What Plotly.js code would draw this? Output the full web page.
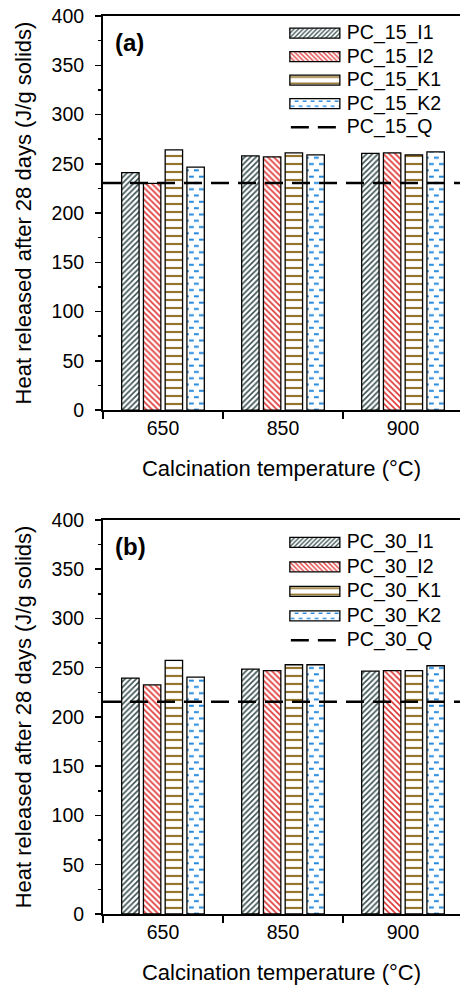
<!DOCTYPE html>
<html>
<head>
<meta charset="utf-8">
<script src="https://cdn.plot.ly/plotly-3.0.1.min.js"></script>
<style>html,body{margin:0;padding:0;background:#fff;overflow:hidden}#chart{width:460px;height:986px}</style>
</head>
<body>
<div id="chart"></div>
<script>
// ---- data ----
const categories = ['650', '850', '900'];
const seriesNames15 = ['PC_15_I1', 'PC_15_I2', 'PC_15_K1', 'PC_15_K2'];
const seriesNames30 = ['PC_30_I1', 'PC_30_I2', 'PC_30_K1', 'PC_30_K2'];
const pc15_I1 = [241, 258, 260.5];
const pc15_I2 = [230, 257, 261];
const pc15_K1 = [264, 261, 259];
const pc15_K2 = [246.5, 259, 262];
const pc15_Q = 230.5;
const pc30_I1 = [239.5, 248.5, 246.5];
const pc30_I2 = [232.5, 247, 247];
const pc30_K1 = [257.5, 253, 247];
const pc30_K2 = [240.5, 253, 252];
const pc30_Q = 215.5;
const qName15 = 'PC_15_Q';
const qName30 = 'PC_30_Q';
const xTitle = 'Calcination temperature (°C)';
const yTitle = 'Heat released after 28 days (J/g solids)';

// ---- styles ----
const K2COLOR = '#1f86dc';
const patterns = [
  {shape: '/', fgcolor: '#3a5050', bgcolor: '#ffffff', size: 4, solidity: 0.4},
  {shape: '\\', fgcolor: '#e23a3a', bgcolor: '#ffffff', size: 4.2, solidity: 0.4},
  {shape: '-', fgcolor: '#94752b', bgcolor: '#ffffff', size: 8, solidity: 0.27},
  {shape: '-', fgcolor: K2COLOR, bgcolor: '#ffffff', size: 6.3, solidity: 0.3}
];

function barTrace(name, vals, i, xa, ya, leg) {
  return {
    type: 'bar', name: name, x: categories, y: vals,
    xaxis: xa, yaxis: ya, legend: leg,
    marker: {color: '#ffffff', line: {color: '#000', width: 1.3}, pattern: patterns[i]},
    hoverinfo: 'skip'
  };
}
function qTrace(name, q, xa, ya, leg) {
  return {
    type: 'scatter', mode: 'lines', name: name, x: [0, 1], y: [q, q],
    xaxis: xa, yaxis: ya, legend: leg,
    line: {color: '#000', width: 2.5, dash: '18px,9px'}, hoverinfo: 'skip'
  };
}

const top15 = [pc15_I1, pc15_I2, pc15_K1, pc15_K2];
const bot30 = [pc30_I1, pc30_I2, pc30_K1, pc30_K2];
const data = [];
top15.forEach((v, i) => data.push(barTrace(seriesNames15[i], v, i, 'x', 'y', 'legend')));
data.push(qTrace(qName15, pc15_Q, 'x3', 'y', 'legend'));
bot30.forEach((v, i) => data.push(barTrace(seriesNames30[i], v, i, 'x2', 'y2', 'legend2')));
data.push(qTrace(qName30, pc30_Q, 'x4', 'y2', 'legend2'));

const FONT = 'Liberation Sans, Arial, Helvetica, sans-serif';
function xAxis(anchor) {
  return {
    anchor: anchor, type: 'category', categoryorder: 'array', categoryarray: categories,
    range: [-0.5, 2.475], showline: true, linecolor: '#000', linewidth: 2, mirror: true,
    ticks: 'outside', tickson: 'boundaries', ticklen: 7, tickwidth: 1.5, tickcolor: '#000',
    showgrid: false, zeroline: false, tickfont: {size: 19.5, color: '#000'},
    title: {text: xTitle, font: {size: 22, color: '#000'}, standoff: 22}, fixedrange: true
  };
}
function yAxis(anchor, domain) {
  return {
    anchor: anchor, domain: domain, range: [0, 400], dtick: 50, tick0: 0,
    showline: true, linecolor: '#000', linewidth: 2,
    ticks: 'outside', ticklen: 6, tickwidth: 1.5, tickcolor: '#000', ticklabelstandoff: 7,
    minor: {dtick: 25, ticks: 'outside', ticklen: 3.5, tickwidth: 1.5, tickcolor: '#000', showgrid: false},
    showgrid: false, zeroline: false, tickfont: {size: 19.5, color: '#000'},
    title: {text: yTitle, font: {size: 22, color: '#000'}, standoff: 14}, fixedrange: true
  };
}
function legendBox(y) {
  return {x: 0.515, xanchor: 'left', y: y, yanchor: 'top', bgcolor: 'rgba(0,0,0,0)',
          itemwidth: 50, tracegroupgap: 0, font: {size: 19.5, color: '#000'}, itemclick: false, itemdoubleclick: false};
}

const layout = {
  width: 460, height: 986,
  margin: {l: 103, r: 0, t: 16, b: 72},
  paper_bgcolor: '#fff', plot_bgcolor: '#fff',
  font: {family: FONT, size: 19, color: '#000'},
  barmode: 'group', bargap: 0.275, bargroupgap: 0.2,
  showlegend: true,
  xaxis: xAxis('y'),
  yaxis: yAxis('x', [0.5612, 1]),
  xaxis2: xAxis('y2'),
  yaxis2: yAxis('x2', [0, 0.4388]),
  xaxis3: {overlaying: 'x', anchor: 'y', range: [0, 1], visible: false, fixedrange: true},
  xaxis4: {overlaying: 'x2', anchor: 'y2', range: [0, 1], visible: false, fixedrange: true},
  legend: legendBox(1.004),
  legend2: legendBox(0.437),
  annotations: [
    {xref: 'x domain', yref: 'y domain', x: 0.028, y: 0.9315, xanchor: 'left', yanchor: 'middle',
     text: '<b>(a)</b>', showarrow: false, font: {size: 24, color: '#000'}},
    {xref: 'x2 domain', yref: 'y2 domain', x: 0.028, y: 0.9315, xanchor: 'left', yanchor: 'middle',
     text: '<b>(b)</b>', showarrow: false, font: {size: 24, color: '#000'}}
  ]
};

const LEG_STEP = {legend: 23.5, legend2: 24.5};
function place(p, d, left, cy) {
  p.removeAttribute('transform');
  p.setAttribute('d', d);
  const r = p.getBoundingClientRect();
  const dx = left - r.left, dy = cy - (r.top + r.bottom) / 2;
  p.setAttribute('transform', 'translate(' + dx + ',' + dy + ')');
}
function fixLegends(gd) {
  const items = Array.from(gd.querySelectorAll('g.traces'));
  const groups = new Map();
  items.forEach(it => {
    const k = it.parentNode;
    if (!groups.has(k)) groups.set(k, []);
    groups.get(k).push(it);
  });
  groups.forEach(list => {
    let legId = 'legend';
    try { legId = list[0].__data__[0].trace.legend || 'legend'; } catch (e) {}
    const step = LEG_STEP[legId] || 24;
    const m0 = /translate\(\s*([-\d.e]+)[ ,]+([-\d.e]+)\s*\)/.exec(list[0].getAttribute('transform') || '');
    if (!m0) return;
    const x0 = +m0[1], y0 = +m0[2];
    list.forEach((it, i) => it.setAttribute('transform', 'translate(' + x0 + ',' + (y0 + i * step) + ')'));
  });
  items.forEach(it => {
    try {
      const txt = it.querySelector('text');
      if (!txt) return;
      const tr = txt.getBoundingClientRect();
      const left = tr.left - 7 - 50, cy = (tr.top + tr.bottom) / 2 + 0.5;
      let type = 'bar';
      try { type = it.__data__[0].trace.type; } catch (e) {}
      const ptsPaths = it.querySelectorAll('g[class*="points"] path');
      if (type === 'bar') {
        const bar = ptsPaths[0];
        if (bar) place(bar, 'M0,-5h50v10h-50Z', left, cy);
      } else {
        ptsPaths.forEach(p => p.style.display = 'none');
        const line = it.querySelector('g[class*="lines"] path');
        if (line) place(line, 'M0,0h46', left + 1, cy);
      }
    } catch (e) {}
  });
}
function fixDashPattern(gd) {
  const probe = document.createElement('div');
  probe.style.color = K2COLOR; document.body.appendChild(probe);
  const rgb = getComputedStyle(probe).color.replace(/\s/g, '');
  probe.remove();
  const hex = K2COLOR.toLowerCase();
  document.querySelectorAll('pattern').forEach(pat => {
    const html = pat.innerHTML.replace(/\s/g, '').toLowerCase();
    if (html.indexOf(rgb) >= 0 || html.indexOf(hex) >= 0) {
      pat.setAttribute('width', '10');
      pat.setAttribute('height', '12.6');
      pat.innerHTML = '<rect x="0" y="0" width="10" height="12.6" fill="#ffffff"></rect>' +
        '<path d="M1,3.15h4.8M6,9.45h4M0,9.45h0.8" stroke="' + K2COLOR + '" stroke-width="1.9" fill="none"></path>';
    }
  });
}

Plotly.newPlot('chart', data, layout, {displayModeBar: false, staticPlot: true}).then(gd => {
  try { fixDashPattern(gd); } catch (e) {}
  try { fixLegends(gd); } catch (e) {}
});
</script>
</body>
</html>
